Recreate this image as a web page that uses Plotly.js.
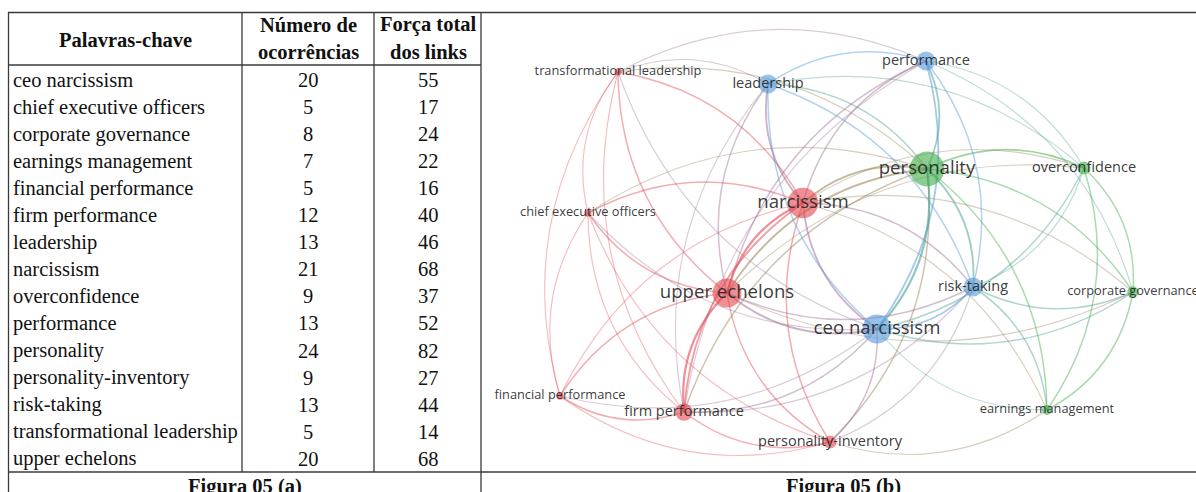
<!DOCTYPE html>
<html>
<head>
<meta charset="utf-8">
<script src="https://cdn.plot.ly/plotly-3.0.1.min.js"></script>
<style>
  html, body { margin: 0; padding: 0; background: #ffffff; }
  #chart { width: 1196px; height: 492px; }
</style>
</head>
<body>
<div id="chart"></div>
<script>
// ---- Figura 05 (a): keyword table ----
const keywords = [
  'ceo narcissism', 'chief executive officers', 'corporate governance',
  'earnings management', 'financial performance', 'firm performance',
  'leadership', 'narcissism', 'overconfidence', 'performance', 'personality',
  'personality-inventory', 'risk-taking', 'transformational leadership',
  'upper echelons'
];
const occurrences  = [20, 5, 8, 7, 5, 12, 13, 21, 9, 13, 24, 9, 13, 5, 20];
const linkStrength = [55, 17, 24, 22, 16, 40, 46, 68, 37, 52, 82, 27, 44, 14, 68];
const headerKeyword = 'Palavras-chave';
const headerOcc = ['Número de', 'ocorrências'];
const headerLinks = ['Força total', 'dos links'];
const captions = ['Figura 05 (a)', 'Figura 05 (b)'];

// ---- Figura 05 (b): co-occurrence map (map layout coordinates, same order as keywords) ----
const mapX = [877, 588, 1133, 1047, 560, 684, 768, 803, 1084, 926, 927, 830, 973, 618, 727];
const mapY = [329, 213, 292, 410, 396, 412, 84, 203, 168, 61, 169, 442, 287, 72, 293];
const cluster = [2, 1, 3, 3, 1, 1, 2, 1, 3, 2, 3, 1, 2, 1, 1];

// links between keywords (source, target, strength)
const linkSource = [
  'transformational leadership','transformational leadership','transformational leadership','transformational leadership','transformational leadership','transformational leadership','transformational leadership','transformational leadership','transformational leadership',
  'chief executive officers','chief executive officers','chief executive officers','chief executive officers','chief executive officers','chief executive officers','chief executive officers',
  'financial performance','financial performance','financial performance','financial performance','financial performance',
  'firm performance','firm performance','firm performance','firm performance','firm performance','firm performance','firm performance','firm performance',
  'personality-inventory','personality-inventory','personality-inventory','personality-inventory','personality-inventory','personality-inventory',
  'earnings management','earnings management','earnings management','earnings management','earnings management','earnings management',
  'corporate governance','corporate governance','corporate governance','corporate governance','corporate governance','corporate governance','corporate governance',
  'overconfidence','overconfidence','overconfidence','overconfidence','overconfidence','overconfidence','overconfidence',
  'performance','performance','performance','performance','performance','performance',
  'leadership','leadership','leadership','leadership','leadership',
  'personality','personality','personality','personality',
  'narcissism','narcissism','narcissism',
  'upper echelons','upper echelons',
  'ceo narcissism'
];
const linkTarget = [
  'leadership','performance','narcissism','upper echelons','chief executive officers','firm performance','personality','ceo narcissism','financial performance',
  'narcissism','upper echelons','firm performance','financial performance','personality','ceo narcissism','personality-inventory',
  'upper echelons','firm performance','narcissism','ceo narcissism','personality-inventory',
  'upper echelons','narcissism','ceo narcissism','personality','personality-inventory','performance','risk-taking','leadership',
  'upper echelons','narcissism','personality','ceo narcissism','earnings management','risk-taking',
  'personality','overconfidence','corporate governance','risk-taking','ceo narcissism','narcissism',
  'personality','overconfidence','risk-taking','ceo narcissism','performance','narcissism','upper echelons',
  'personality','performance','ceo narcissism','risk-taking','narcissism','upper echelons','leadership',
  'leadership','personality','narcissism','ceo narcissism','upper echelons','risk-taking',
  'personality','narcissism','ceo narcissism','upper echelons','risk-taking',
  'narcissism','upper echelons','ceo narcissism','risk-taking',
  'upper echelons','ceo narcissism','risk-taking',
  'ceo narcissism','risk-taking',
  'risk-taking'
];
const linkWeight = [
  1,1,2,2,1,1,1,1,1,
  2,2,1,1,1,1,1,
  2,2,1,1,1,
  4,3,2,2,2,1,1,1,
  2,2,2,2,1,1,
  2,2,2,2,1,1,
  2,2,2,2,1,1,1,
  3,1,2,1,1,1,1,
  2,3,2,3,2,2,
  2,3,2,2,2,
  3,3,4,3,
  4,3,2,
  3,2,
  3
];

// ---- styling ----
const W = 1196, H = 492;
const clusterRGB = { 1: [228, 68, 78], 2: [82, 152, 218], 3: [62, 172, 70] };
const serif = 'Liberation Serif, Times New Roman, serif';
const sans = 'Open Sans, DejaVu Sans, sans-serif';
const ink = '#111111';
const rule = '#3a3a3a';

const px = v => v / W;          // page pixel -> paper x
const py = v => 1 - v / H;      // page pixel -> paper y

// table lines
const shapes = [];
function hline(x0, x1, y) {
  shapes.push({ type: 'line', xref: 'paper', yref: 'paper', x0: px(x0), x1: px(x1), y0: py(y), y1: py(y),
    line: { color: rule, width: 1.3 }, layer: 'above' });
}
function vline(x, y0, y1) {
  shapes.push({ type: 'line', xref: 'paper', yref: 'paper', x0: px(x), x1: px(x), y0: py(y0), y1: py(y1),
    line: { color: rule, width: 1.3 }, layer: 'above' });
}
hline(8, W, 12.5);
hline(8, 481, 65);
hline(8, W, 472);
vline(8.5, 12, H);
vline(242, 12, 472);
vline(374, 12, 472);
vline(481, 12, H);

// curved links (quadratic Bézier, bulging away from the map centre)
const centreX = 850, centreY = 262;
const idx = name => keywords.indexOf(name);
function mix(a, b) { return a.map((v, i) => Math.round((v + b[i]) / 2)); }
for (let k = 0; k < linkSource.length; k++) {
  const a = idx(linkSource[k]), b = idx(linkTarget[k]);
  const x0 = mapX[a], y0 = mapY[a], x1 = mapX[b], y1 = mapY[b];
  const mx = (x0 + x1) / 2, my = (y0 + y1) / 2;
  const dx = x1 - x0, dy = y1 - y0, len = Math.hypot(dx, dy);
  let nx = -dy / len, ny = dx / len;
  if (Math.hypot(mx + nx - centreX, my + ny - centreY) < Math.hypot(mx - centreX, my - centreY)) { nx = -nx; ny = -ny; }
  const off = 0.24 * len;
  const cx = mx + nx * off, cy = my + ny * off;
  const c = mix(clusterRGB[cluster[a]], clusterRGB[cluster[b]]);
  const w = linkWeight[k];
  shapes.push({
    type: 'path', xref: 'x', yref: 'y', layer: 'below',
    path: `M ${x0},${y0} Q ${cx},${cy} ${x1},${y1}`,
    line: { color: `rgba(${c[0]},${c[1]},${c[2]},${0.28 + 0.08 * w})`, width: 0.8 + 0.35 * w }
  });
}

// nodes
const nodeColor = cluster.map(c => { const v = clusterRGB[c]; return `rgba(${v[0]},${v[1]},${v[2]},0.85)`; });
const nodeSize = occurrences.map(o => 1.45 * o);
const labelSize = occurrences.map(o => o >= 20 ? 18.6 : (o >= 9 ? 14.5 : 12.8));

const nodes = {
  type: 'scatter', mode: 'markers+text', xaxis: 'x', yaxis: 'y',
  x: mapX, y: mapY, text: keywords,
  textposition: 'middle center',
  textfont: { family: sans, size: labelSize, color: 'rgba(35,35,35,0.9)' },
  marker: { size: nodeSize, color: nodeColor, line: { width: 0 } },
  hoverinfo: 'text', showlegend: false, cliponaxis: true
};

// table text
const annotations = [];
const rowTop = 80, rowStep = 27.05;
const ann = (text, x, y, opts) => Object.assign({ text, x, y, showarrow: false, xref: 'paper', yref: 'paper',
  font: { family: serif, size: 20.5, color: ink } }, opts || {});

keywords.forEach((kw, i) => {
  annotations.push(ann(kw, 11, i, { xref: 'x2', yref: 'y2', xanchor: 'left', yanchor: 'middle' }));
  annotations.push(ann(String(occurrences[i]), 308, i, { xref: 'x2', yref: 'y2', xanchor: 'center', yanchor: 'middle' }));
  annotations.push(ann(String(linkStrength[i]), 428, i, { xref: 'x2', yref: 'y2', xanchor: 'center', yanchor: 'middle' }));
});
const bold = { family: serif, size: 20.5, color: ink, weight: 'bold' };
annotations.push(ann('<b>' + headerKeyword + '</b>', px(125), py(39.5), { xanchor: 'center', yanchor: 'middle', font: bold }));
annotations.push(ann('<b>' + headerOcc[0] + '</b>', px(308), py(25), { xanchor: 'center', yanchor: 'middle', font: bold }));
annotations.push(ann('<b>' + headerOcc[1] + '</b>', px(308), py(52.5), { xanchor: 'center', yanchor: 'middle', font: bold }));
annotations.push(ann('<b>' + headerLinks[0] + '</b>', px(428), py(25), { xanchor: 'center', yanchor: 'middle', font: bold }));
annotations.push(ann('<b>' + headerLinks[1] + '</b>', px(428), py(52.5), { xanchor: 'center', yanchor: 'middle', font: bold }));
annotations.push(ann('<b>' + captions[0] + '</b>', px(245), py(486), { xanchor: 'center', yanchor: 'middle', font: bold }));
annotations.push(ann('<b>' + captions[1] + '</b>', px(843), py(486), { xanchor: 'center', yanchor: 'middle', font: bold }));

const hidden = { visible: false, showgrid: false, zeroline: false, fixedrange: true };
const layout = {
  width: W, height: H,
  margin: { l: 0, r: 0, t: 0, b: 0, pad: 0 },
  paper_bgcolor: '#ffffff', plot_bgcolor: 'rgba(0,0,0,0)',
  showlegend: false,
  xaxis: Object.assign({ domain: [481 / W, 1], range: [481, W] }, hidden),
  yaxis: Object.assign({ domain: [0, 1], range: [H, 0] }, hidden),
  xaxis2: Object.assign({ domain: [0, 481 / W], range: [0, 481], anchor: 'y2' }, hidden),
  yaxis2: Object.assign({ domain: [0, 1], range: [(H - rowTop) / rowStep, -rowTop / rowStep], anchor: 'x2' }, hidden),
  shapes, annotations
};

Plotly.newPlot('chart', [nodes], layout, { displayModeBar: false, staticPlot: true });
</script>
</body>
</html>
